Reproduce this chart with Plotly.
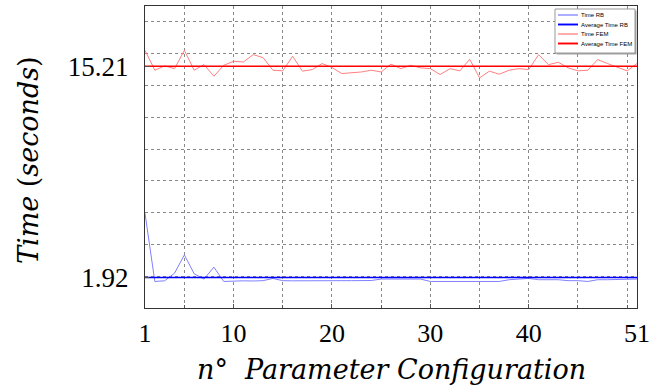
import plotly.graph_objects as go

runs = list(range(1, 52))

time_fem = [16.21, 14.96, 15.23, 15.06, 16.21, 14.96, 15.31, 14.58, 15.27, 15.52,
            15.48, 15.94, 15.75, 14.96, 14.92, 15.84, 14.90, 15.00, 15.38, 15.13,
            14.75, 14.81, 14.85, 14.96, 14.85, 15.34, 15.06, 15.27, 15.11, 15.06,
            14.69, 15.06, 14.92, 15.65, 14.48, 14.90, 14.71, 14.96, 15.06, 15.00,
            15.94, 15.31, 15.46, 15.11, 14.92, 14.96, 15.63, 15.38, 15.13, 14.92,
            15.38]

time_rb = [5.96, 1.67, 1.71, 2.19, 3.34, 2.15, 1.82, 2.57, 1.67, 1.71,
           1.71, 1.70, 1.72, 1.86, 1.72, 1.71, 1.72, 1.72, 1.71, 1.73,
           1.72, 1.72, 1.72, 1.73, 1.82, 1.82, 1.82, 1.86, 1.82, 1.67,
           1.67, 1.67, 1.70, 1.67, 1.67, 1.70, 1.67, 1.78, 1.80, 1.86,
           1.78, 1.78, 1.78, 1.72, 1.72, 1.67, 1.78, 1.78, 1.78, 1.80,
           1.82]

avg_rb = 1.92
avg_fem = 15.21

x_tickvals = [1, 10, 20, 30, 40, 51]
y_tickvals = [1.92, 15.21]
y_ticktext = ["1.92", "15.21"]

series_names = ["Time RB", "Average Time RB", "Time FEM", "Average Time FEM"]
series_colors = ["#8080ff", "#0000ff", "#ff8080", "#ff0000"]
series_widths = [1, 1.6, 1, 1.6]

SERIF = "Liberation Serif"
TITLE_FONT = "DejaVu Serif"

W, H = 650, 389
ML, MR, MT, MB = 145, 13, 6, 81
PW, PH = W - ML - MR, H - MT - MB


def px(xp):
    return (xp - ML) / PW


def py(yp):
    return (H - MB - yp) / PH


fig = go.Figure()
fig.add_trace(go.Scatter(x=runs, y=time_rb, mode="lines", name=series_names[0],
                         line=dict(color=series_colors[0], width=series_widths[0])))
fig.add_trace(go.Scatter(x=[runs[0], runs[-1]], y=[avg_rb, avg_rb], mode="lines",
                         name=series_names[1],
                         line=dict(color=series_colors[1], width=series_widths[1])))
fig.add_trace(go.Scatter(x=runs, y=time_fem, mode="lines", name=series_names[2],
                         line=dict(color=series_colors[2], width=series_widths[2])))
fig.add_trace(go.Scatter(x=[runs[0], runs[-1]], y=[avg_fem, avg_fem], mode="lines",
                         name=series_names[3],
                         line=dict(color=series_colors[3], width=series_widths[3])))

grid = dict(gridcolor="#888888", griddash="dot", gridwidth=1)

fig.update_xaxes(range=[1, 51], tickvals=x_tickvals, ticks="inside", ticklen=4,
                 tickcolor="#555", showline=True, linecolor="#333", linewidth=1.3,
                 mirror=True, showgrid=True, zeroline=False, automargin=False,
                 ticklabelstandoff=2, ticklabeloverflow="allow",
                 tickfont=dict(family=SERIF, size=26, color="black"),
                 minor=dict(dtick=5, tick0=0, ticks="inside", ticklen=3, tickcolor="#555",
                            showgrid=True, **grid),
                 **grid)
fig.update_yaxes(range=[0, 19], tickvals=y_tickvals, ticktext=y_ticktext,
                 ticks="inside", ticklen=4, tickcolor="#555",
                 showline=True, linecolor="#333", linewidth=1.3, mirror=True,
                 showgrid=True, zeroline=False, ticklabelstandoff=10, automargin=False,
                 ticklabeloverflow="allow",
                 tickfont=dict(family=SERIF, size=27, color="black"),
                 minor=dict(dtick=2, tick0=0, ticks="", showgrid=True, **grid),
                 **grid)

fig.add_annotation(text="<i>n</i>°  <i>Parameter Configuration</i>", xref="paper",
                   yref="paper", x=0.5, y=py(369), xanchor="center", yanchor="middle",
                   showarrow=False, font=dict(family=TITLE_FONT, size=27, color="black"))
fig.add_annotation(text="<i>Time</i> (<i>seconds</i>)", xref="paper", yref="paper",
                   x=px(29), y=py(160), xanchor="center", yanchor="middle", textangle=-90,
                   showarrow=False, font=dict(family=TITLE_FONT, size=27, color="black"))

# compact legend box (plotly's own legend enforces a minimum row height)
fig.add_shape(type="rect", xref="paper", yref="paper",
              x0=px(556.5), x1=px(636.5), y0=py(54.5), y1=py(10.5),
              fillcolor="#a0a0a0", line=dict(width=0), layer="above")
fig.add_shape(type="rect", xref="paper", yref="paper",
              x0=px(555), x1=px(635), y0=py(53), y1=py(9),
              fillcolor="white", line=dict(color="#999", width=1), layer="above")
row_y = [15, 24.5, 34, 43.5]
for name, color, width, ry in zip(series_names, series_colors, series_widths, row_y):
    fig.add_shape(type="line", xref="paper", yref="paper",
                  x0=px(558), x1=px(578), y0=py(ry), y1=py(ry),
                  line=dict(color=color, width=width + 0.3), layer="above")
    fig.add_annotation(text=name, xref="paper", yref="paper", x=px(579), y=py(ry),
                       xanchor="left", yanchor="middle", showarrow=False,
                       font=dict(family="Liberation Sans", size=6, color="black"))

fig.update_layout(
    width=W, height=H,
    margin=dict(l=ML, r=MR, t=MT, b=MB),
    plot_bgcolor="white", paper_bgcolor="white",
    showlegend=False,
)

fig.write_html("out.html", config={"displayModeBar": False},
               post_script="document.body.style.margin='0';document.body.style.overflow='hidden';")
